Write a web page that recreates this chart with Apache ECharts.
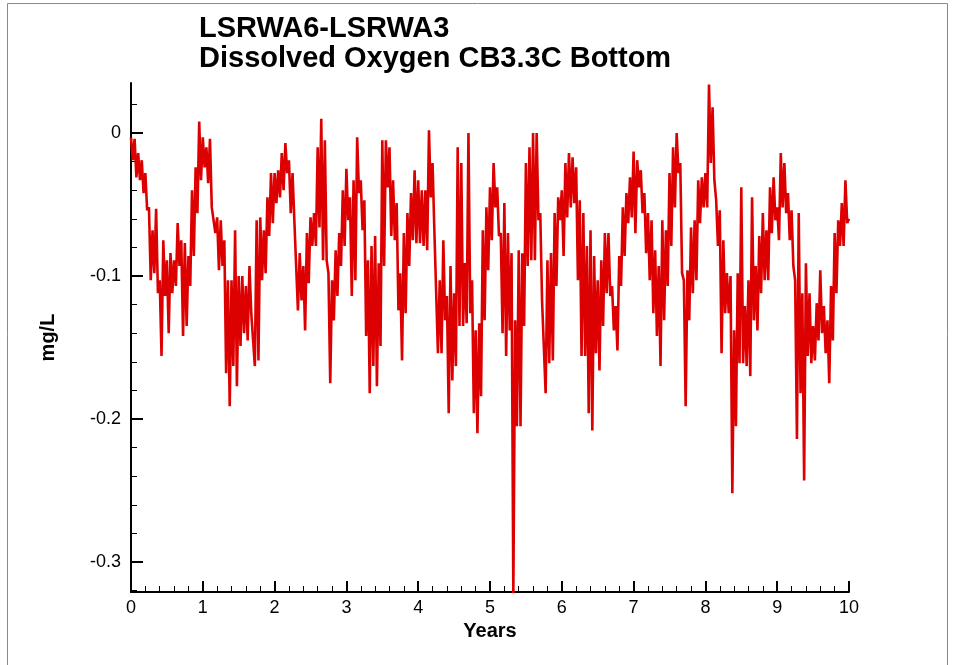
<!DOCTYPE html>
<html>
<head>
<meta charset="utf-8">
<script src="https://cdn.jsdelivr.net/npm/echarts@6/dist/echarts.min.js"></script>
<style>
html,body{margin:0;padding:0;background:#fff;}
#chart{width:956px;height:665px;}
</style>
</head>
<body>
<div id="chart"></div>
<script>
// Sampling step of the series (years)
var step = 0.025;
// Difference in bottom dissolved oxygen (mg/L)
var values = [
-0.003,-0.019,-0.004,-0.031,-0.014,-0.033,-0.019,-0.042,-0.028,-0.054,
-0.052,-0.103,-0.068,-0.098,-0.053,-0.112,-0.103,-0.156,-0.075,-0.114,
-0.089,-0.140,-0.084,-0.112,-0.089,-0.107,-0.063,-0.093,-0.075,-0.142,
-0.077,-0.135,-0.086,-0.107,-0.040,-0.086,-0.024,-0.056,0.008,-0.033,
-0.003,-0.024,-0.010,-0.035,-0.004,-0.052,-0.052,-0.070,-0.059,-0.096,
-0.061,-0.093,-0.075,-0.168,-0.103,-0.191,-0.103,-0.163,-0.068,-0.177,
-0.100,-0.149,-0.100,-0.140,-0.107,-0.145,-0.093,-0.126,-0.126,-0.163,
-0.061,-0.159,-0.059,-0.103,-0.068,-0.098,-0.045,-0.072,-0.028,-0.063,
-0.028,-0.049,-0.026,-0.045,-0.014,-0.040,-0.007,-0.028,-0.019,-0.056,
-0.028,-0.061,-0.061,-0.124,-0.084,-0.117,-0.093,-0.138,-0.070,-0.105,
-0.059,-0.079,-0.056,-0.079,-0.010,-0.066,0.010,-0.089,-0.005,-0.089,
-0.098,-0.175,-0.103,-0.131,-0.082,-0.114,-0.070,-0.093,-0.040,-0.079,
-0.025,-0.061,-0.045,-0.114,-0.033,-0.103,-0.003,-0.042,-0.033,-0.068,
-0.047,-0.142,-0.089,-0.182,-0.079,-0.163,-0.072,-0.177,-0.091,-0.149,
-0.005,-0.093,-0.005,-0.038,-0.010,-0.072,-0.033,-0.075,-0.049,-0.124,
-0.098,-0.159,-0.070,-0.126,-0.056,-0.093,-0.042,-0.075,-0.026,-0.077,
-0.033,-0.077,-0.040,-0.079,-0.040,-0.082,0.002,-0.045,-0.021,-0.068,
-0.068,-0.154,-0.103,-0.154,-0.075,-0.131,-0.114,-0.196,-0.093,-0.173,
-0.112,-0.163,-0.010,-0.135,-0.021,-0.135,-0.091,-0.133,0.000,-0.126,
-0.103,-0.196,-0.138,-0.210,-0.133,-0.184,-0.068,-0.131,-0.052,-0.096,
-0.038,-0.075,-0.021,-0.052,-0.038,-0.072,-0.070,-0.140,-0.049,-0.156,
-0.070,-0.138,-0.084,-0.322,-0.131,-0.205,-0.082,-0.205,-0.084,-0.135,
-0.021,-0.093,-0.010,-0.089,0.000,-0.089,0.000,-0.061,-0.056,-0.117,
-0.117,-0.182,-0.089,-0.161,-0.084,-0.159,-0.056,-0.107,-0.045,-0.061,
-0.040,-0.086,-0.021,-0.059,-0.014,-0.052,-0.017,-0.049,-0.024,-0.103,
-0.047,-0.156,-0.056,-0.156,-0.079,-0.196,-0.068,-0.208,-0.086,-0.154,
-0.103,-0.166,-0.089,-0.135,-0.070,-0.112,-0.070,-0.114,-0.107,-0.138,
-0.121,-0.152,-0.086,-0.107,-0.052,-0.086,-0.042,-0.063,-0.031,-0.059,
-0.013,-0.070,-0.019,-0.038,-0.026,-0.056,-0.042,-0.084,-0.056,-0.103,
-0.061,-0.126,-0.082,-0.142,-0.093,-0.163,-0.061,-0.131,-0.068,-0.107,
-0.028,-0.079,-0.010,-0.052,0.000,-0.028,-0.021,-0.098,-0.103,-0.191,
-0.096,-0.131,-0.066,-0.112,-0.061,-0.103,-0.033,-0.063,-0.031,-0.052,
-0.028,-0.052,0.034,-0.021,0.018,-0.033,-0.047,-0.079,-0.054,-0.154,
-0.075,-0.126,-0.098,-0.126,-0.100,-0.252,-0.138,-0.205,-0.098,-0.161,
-0.038,-0.161,-0.121,-0.163,-0.103,-0.170,-0.045,-0.131,-0.093,-0.138,
-0.072,-0.112,-0.056,-0.103,-0.068,-0.103,-0.038,-0.070,-0.031,-0.061,
-0.052,-0.075,-0.014,-0.052,-0.021,-0.056,-0.042,-0.075,-0.054,-0.093,
-0.103,-0.214,-0.056,-0.182,-0.112,-0.243,-0.091,-0.156,-0.112,-0.161,
-0.135,-0.159,-0.119,-0.145,-0.096,-0.140,-0.121,-0.154,-0.131,-0.175,
-0.107,-0.145,-0.070,-0.112,-0.061,-0.079,-0.049,-0.079,-0.033,-0.063,
-0.060
];
var yMajorTicks = [0, -0.1, -0.2, -0.3];
var yMinorTicks = [0.02, -0.02, -0.04, -0.06, -0.08, -0.12, -0.14, -0.16, -0.18, -0.22, -0.24, -0.26, -0.28, -0.32];
var titleLines = ['LSRWA6-LSRWA3', 'Dissolved Oxygen CB3.3C Bottom'];

var seriesData = values.map(function (v, i) { return [+(i * step).toFixed(3), v]; });

var FONT = 'Arial, "Liberation Sans", sans-serif';
var chart = echarts.init(document.getElementById('chart'), null, {renderer: 'canvas'});
var yMin = -0.321, yMax = 0.035;
chart.setOption({
  animation: false,
  backgroundColor: '#ffffff',
  title: {
    text: titleLines.join('\n'),
    left: 194, top: 9,
    textStyle: {fontFamily: FONT, fontWeight: 'bold', fontSize: 29, lineHeight: 30, color: '#000'}
  },
  graphic: [{
    type: 'rect', silent: true, z: -1,
    shape: {x: 7.5, y: 3.5, width: 940, height: 680},
    style: {fill: null, stroke: '#8a8a8a', lineWidth: 1}
  }],
  grid: {left: 131, right: 107, top: 83, bottom: 73, containLabel: false},
  xAxis: {
    type: 'value', min: 0, max: 10, interval: 1,
    name: 'Years', nameLocation: 'middle', nameGap: 28,
    nameTextStyle: {fontFamily: FONT, fontWeight: 'bold', fontSize: 20, color: '#000'},
    axisLine: {show: true, onZero: false, lineStyle: {color: '#000', width: 2}},
    axisTick: {show: true, inside: true, length: 11, lineStyle: {color: '#000', width: 2}},
    minorTick: {show: true, splitNumber: 5, length: 6, lineStyle: {color: '#000', width: 1}},
    splitLine: {show: false}, minorSplitLine: {show: false},
    axisLabel: {fontFamily: FONT, fontSize: 18, color: '#000', margin: 7}
  },
  yAxis: [{
    type: 'value', min: yMin, max: yMax, position: 'left', offset: 0,
    name: 'mg/L', nameLocation: 'middle', nameGap: 73, nameRotate: 90,
    nameTextStyle: {fontFamily: FONT, fontWeight: 'bold', fontSize: 20, color: '#000'},
    axisLine: {show: true, onZero: false, lineStyle: {color: '#000', width: 2}},
    axisTick: {show: true, inside: true, length: 12, customValues: yMajorTicks, lineStyle: {color: '#000', width: 2}},
    axisLabel: {fontFamily: FONT, fontSize: 18, color: '#000', margin: 10, customValues: yMajorTicks,
      formatter: function (v) { return v === 0 ? '0' : String(+v.toFixed(1)); }},
    splitLine: {show: false}
  }, {
    type: 'value', min: yMin, max: yMax, position: 'left', offset: 0,
    axisLine: {show: false},
    axisTick: {show: true, inside: true, length: 6, customValues: yMinorTicks, lineStyle: {color: '#000', width: 1}},
    axisLabel: {show: false},
    splitLine: {show: false}
  }],
  series: [{
    type: 'line', data: seriesData, xAxisIndex: 0, yAxisIndex: 0,
    showSymbol: false, symbol: 'none', clip: true,
    lineStyle: {color: '#dd0000', width: 2.6},
    z: 1
  }]
});
</script>
</body>
</html>
